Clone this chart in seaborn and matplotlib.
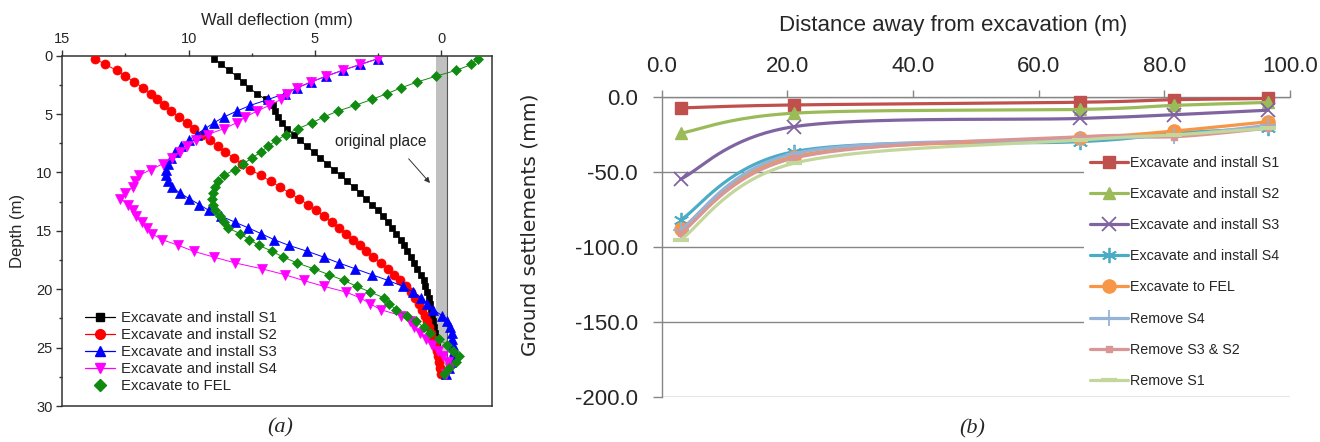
import numpy as np
import matplotlib
matplotlib.use("Agg")
import matplotlib.pyplot as plt
from matplotlib.lines import Line2D
from matplotlib.ticker import MultipleLocator
import seaborn as sns

sns.set_theme(style="white")
plt.rcParams['font.family'] = ['Liberation Sans', 'DejaVu Sans']
plt.rcParams['axes.unicode_minus'] = False

# (a) wall deflection (mm) against depth (m)
depth = [0.25, 0.75, 1.25, 1.75, 2.25, 2.75, 3.25, 3.75, 4.25, 4.75, 5.25, 5.75,
         6.25, 6.75, 7.25, 7.75, 8.25, 8.75, 9.25, 9.75, 10.25, 10.75, 11.25, 11.75,
         12.25, 12.75, 13.25, 13.75, 14.25, 14.75, 15.25, 15.75, 16.25, 16.75, 17.25,
         17.75, 18.25, 18.75, 19.25, 19.75, 20.25, 20.75, 21.25, 21.75, 22.25, 22.75,
         23.25, 23.75, 24.25, 24.75, 25.25, 25.75, 26.25, 26.75, 27.25]
defl_s1 = [9.0, 8.7, 8.4, 8.1, 7.85, 7.6, 7.3, 6.95, 6.65, 6.58, 6.48, 6.32, 6.1,
           5.84, 5.58, 5.32, 5.05, 4.78, 4.52, 4.25, 3.98, 3.72, 3.46, 3.22, 2.98,
           2.75, 2.52, 2.32, 2.12, 1.94, 1.77, 1.61, 1.47, 1.34, 1.2, 1.06, 0.94, 0.8,
           0.7, 0.63, 0.55, 0.48, 0.43, 0.39, 0.35, 0.32, 0.28, 0.24, 0.2, 0.17, 0.14,
           0.11, 0.08, 0.05, 0.0]
defl_s2 = [13.7, 13.3, 12.85, 12.5, 12.15, 11.8, 11.5, 11.25, 10.98, 10.68, 10.38,
           10.07, 9.77, 9.46, 9.15, 8.85, 8.54, 8.22, 7.9, 7.55, 7.15, 6.75, 6.38, 6.0,
           5.62, 5.28, 4.95, 4.63, 4.33, 4.05, 3.77, 3.5, 3.23, 2.96, 2.68, 2.4, 2.12,
           1.86, 1.62, 1.4, 1.2, 1.02, 0.88, 0.75, 0.64, 0.55, 0.47, 0.39, 0.32, 0.25,
           0.18, 0.12, 0.07, 0.04, 0.0]
defl_s3 = [2.5, 3.2, 3.9, 4.55, 5.15, 5.7, 6.2, 6.85, 7.55, 8.1, 8.6, 9.0, 9.35, 9.68,
           10.0, 10.3, 10.53, 10.7, 10.83, 10.9, 10.9, 10.8, 10.65, 10.35, 9.97, 9.57,
           9.2, 8.7, 8.17, 7.63, 7.12, 6.62, 6.02, 5.3, 4.65, 4.05, 3.4, 2.75, 2.1, 1.52,
           1.1, 0.78, 0.55, 0.31, -0.03, -0.23, -0.34, -0.42, -0.42, -0.45, -0.49,
           -0.46, -0.4, -0.3, -0.2]
defl_s4 = [2.5, 3.2, 3.9, 4.55, 5.15, 5.7, 6.1, 6.35, 6.8, 7.3, 7.75, 8.1, 8.6, 9.25,
           9.7, 10.05, 10.35, 10.65, 11.0, 11.5, 11.95, 12.14, 12.2, 12.5, 12.7, 12.4,
           12.22, 12.1, 11.85, 11.65, 11.45, 11.05, 10.4, 9.8, 9.0, 8.15, 7.1, 6.2,
           5.45, 4.65, 3.75, 3.2, 2.8, 2.4, 1.6, 1.25, 1.08, 0.85, 0.6, 0.38, 0.13,
           -0.09, -0.26, -0.35, -0.2]
defl_fel = [-1.46, -1.2, -0.6, 0.2, 0.95, 1.58, 2.15, 2.75, 3.4, 4.1, 4.65, 5.12,
            5.68, 6.14, 6.52, 6.85, 7.14, 7.48, 7.83, 8.17, 8.6, 8.84, 8.95, 9.04, 9.06,
            9.05, 8.95, 8.77, 8.6, 8.45, 7.95, 7.6, 7.2, 6.7, 6.25, 5.7, 5.05, 4.45,
            3.85, 3.35, 2.8, 2.25, 2.05, 1.8, 1.35, 0.98, 0.7, 0.45, 0.1, -0.22, -0.45,
            -0.7, -0.6, -0.32, -0.1]
labels_a = ["Excavate and install S1", "Excavate and install S2",
            "Excavate and install S3", "Excavate and install S4", "Excavate to FEL"]

# (b) ground settlement (mm) against distance from excavation (m)
distance = [3.0, 21.0, 66.5, 81.5, 96.5]
sett_s1 = [-7.5, -5.5, -3.7, -2.0, -1.2]
sett_s2 = [-24.4, -11.0, -8.5, -5.8, -3.8]
sett_s3 = [-55.0, -20.0, -14.5, -12.0, -9.0]
sett_s4 = [-82.2, -36.7, -30.0, -24.4, -21.0]
sett_fel = [-88.4, -40.0, -27.8, -22.9, -16.7]
sett_rm_s4 = [-89.0, -38.0, -28.5, -26.0, -19.0]
sett_rm_s3s2 = [-91.0, -41.0, -26.7, -26.7, -21.0]
sett_rm_s1 = [-95.5, -44.4, -28.9, -25.5, -21.0]
labels_b = ["Excavate and install S1", "Excavate and install S2",
            "Excavate and install S3", "Excavate and install S4", "Excavate to FEL",
            "Remove S4", "Remove S3 & S2", "Remove S1"]


def smooth(xs, ys, n=40):
    # Excel style smoothed line (Bezier through the points)
    p = np.column_stack([xs, ys]).astype(float)
    p = np.vstack([p[0], p, p[-1]])
    out = []
    t = np.linspace(0, 1, n)[:, None]
    for i in range(1, len(p) - 2):
        p0, p3 = p[i], p[i + 1]
        c1 = p0 + (p[i + 1] - p[i - 1]) / 6
        c2 = p3 - (p[i + 2] - p[i]) / 6
        seg = ((1 - t) ** 3) * p0 + 3 * ((1 - t) ** 2) * t * c1 + 3 * (1 - t) * t ** 2 * c2 + t ** 3 * p3
        out.append(seg if i == 1 else seg[1:])
    out = np.vstack(out)
    return out[:, 0], out[:, 1]


fig = plt.figure(figsize=(13.2, 4.42), dpi=100)
ax1 = fig.add_axes([62.3 / 1320, 36 / 442, 429.4 / 1320, 350.3 / 442])
ax2 = fig.add_axes([661.7 / 1320, 45.3 / 442, 628.3 / 1320, 300 / 442])

# ---------- panel (a)
ax1.fill_betweenx([0, 27], 0.2, -0.22, color='#c0c0c0', lw=0, zorder=1)
ax1.plot([-0.22, -0.22], [0, 27], color='#555555', lw=0.8, zorder=1)

style_a = [('black', 's', 4.8), ('red', 'o', 6.5), ('blue', '^', 6.5),
           ('magenta', 'v', 6.5), ('#118a11', 'D', 5.2)]
series_a = [defl_s1, defl_s2, defl_s3, defl_s4, defl_fel]
handles_a = []
for vals, (col, mk, ms), lab in zip(series_a, style_a, labels_a):
    sns.lineplot(x=vals, y=depth, sort=False, estimator=None, color=col, lw=0.7,
                 marker=mk, markersize=ms, mec=col, mew=0.5, ax=ax1, zorder=3)
    handles_a.append(Line2D([], [], color=col, lw=0.9, marker=mk, markersize=ms + 0.5,
                            mec=col, linestyle='none' if lab == 'Excavate to FEL' else '-'))

ax1.set_xlim(15, -2)
ax1.set_ylim(30, 0)
ax1.xaxis.tick_top()
ax1.set_xticks([15, 10, 5, 0])
ax1.set_xticklabels(['15', '10', '5', '0'])
ax1.xaxis.set_minor_locator(MultipleLocator(2.5))
ax1.set_yticks([0, 5, 10, 15, 20, 25, 30])
ax1.yaxis.set_minor_locator(MultipleLocator(2.5))
ax1.tick_params(which='major', direction='out', length=4.5, width=1, color='#333333',
                labelsize=10.5, pad=2.5, left=True, top=True, bottom=False)
ax1.tick_params(which='minor', direction='out', length=2.5, width=1, color='#333333',
                left=True, top=True, bottom=False)
for sp in ax1.spines.values():
    sp.set_color('#333333')
    sp.set_linewidth(1.1)
ax1.set_xlabel('')
ax1.set_ylabel('')

ax1.text(2.4, 7.37, 'original place', fontsize=11.2, ha='center', va='center', color='#222222')
ax1.annotate('', xy=(0.37, 11.08), xytext=(1.36, 8.65),
             arrowprops=dict(arrowstyle='-|>', color='#333333', lw=0.7, mutation_scale=8))

ax1.legend(handles_a, labels_a, loc='upper left', bbox_to_anchor=(85 / 1320, 1 - 311 / 442),
           bbox_transform=fig.transFigure, frameon=False, borderpad=0, borderaxespad=0,
           fontsize=10.8, handlelength=2.0, handletextpad=0.4, labelspacing=0.2)

fig.text(277 / 1320, 1 - 20.7 / 442, 'Wall deflection (mm)', fontsize=12, ha='center', va='center')
fig.text(18 / 1320, 1 - 231 / 442, 'Depth (m)', fontsize=12, ha='center', va='center', rotation=90)

# ---------- panel (b)
style_b = [('#c0504d', 's', 9, 1), ('#9bbb59', '^', 9, 1), ('#8064a2', 'x', 10, 1.3),
           ('#4bacc6', (6, 2, 0), 11, 1.3), ('#f79646', 'o', 9.5, 1),
           ('#95b3d7', '+', 11, 1.3), ('#d99694', 's', 4, 1), ('#c3d69b', '_', 12, 3)]
series_b = [sett_s1, sett_s2, sett_s3, sett_s4, sett_fel, sett_rm_s4, sett_rm_s3s2, sett_rm_s1]
handles_b = []
for k, (vals, (col, mk, ms, mw), lab) in enumerate(zip(series_b, style_b, labels_b)):
    sx, sy = smooth(distance, vals)
    sns.lineplot(x=sx, y=sy, sort=False, estimator=None, color=col, lw=2.3, ax=ax2,
                 zorder=3 + k * 0.1)
    sns.lineplot(x=distance, y=vals, sort=False, estimator=None, color=col, linestyle='',
                 marker=mk, markersize=ms, mec=col, mew=mw, ax=ax2, zorder=3 + k * 0.1,
                 clip_on=False)
    handles_b.append(Line2D([], [], color=col, lw=2.3, marker=mk, markersize=ms, mec=col, mew=mw))

ax2.set_xlim(0, 100)
ax2.set_ylim(-200, 0)
ax2.xaxis.tick_top()
ax2.set_xticks([0, 20, 40, 60, 80, 100])
ax2.set_xticklabels(['%.1f' % v for v in [0, 20, 40, 60, 80, 100]])
ax2.set_yticks([-200, -150, -100, -50, 0])
ax2.set_yticklabels(['%.1f' % v for v in [-200, -150, -100, -50, 0]])
ax2.yaxis.grid(True, color='#868686', lw=1)
ax2.xaxis.grid(False)
ax2.tick_params(axis='x', direction='out', length=5, width=1, color='#868686',
                labelsize=16, pad=9.5, top=True, bottom=False)
ax2.tick_params(axis='y', direction='out', length=6.5, width=1, color='#868686',
                labelsize=16, pad=10.5, left=True)
for side in ['right', 'bottom']:
    ax2.spines[side].set_visible(False)
for side in ['left', 'top']:
    ax2.spines[side].set_color('#868686')
    ax2.spines[side].set_linewidth(1)
ax2.set_xlabel('')
ax2.set_ylabel('')

leg_top = 1 - 150 / 442
leg_bot = 1 - 394 / 442
leg = ax2.legend(handles_b, labels_b, loc='upper left',
                 bbox_to_anchor=(1084 / 1320, leg_bot, (1292 - 1084) / 1320, leg_top - leg_bot),
                 bbox_transform=fig.transFigure, mode='expand', frameon=True,
                 facecolor='white', edgecolor='none', framealpha=1, fancybox=False,
                 borderpad=0.4, borderaxespad=0, fontsize=10.3, handlelength=2.65,
                 handletextpad=0.17, labelspacing=1.2)
leg.set_zorder(10)

fig.text(953.5 / 1320, 1 - 25 / 442, 'Distance away from excavation (m)', fontsize=16,
         ha='center', va='center')
fig.text(530 / 1320, 1 - 225 / 442, 'Ground settlements (mm)', fontsize=14.5, ha='center',
         va='center', rotation=90, family=['DejaVu Sans'])

# captions
fig.text(280 / 1320, 1 - 428 / 442, '(a)', fontsize=16, ha='center', va='center',
         family=['Liberation Serif'], style='italic')
fig.text(972 / 1320, 1 - 429 / 442, '(b)', fontsize=16, ha='center', va='center',
         family=['Liberation Serif'], style='italic')

fig.savefig('out.png', dpi=100)
plt.close()
